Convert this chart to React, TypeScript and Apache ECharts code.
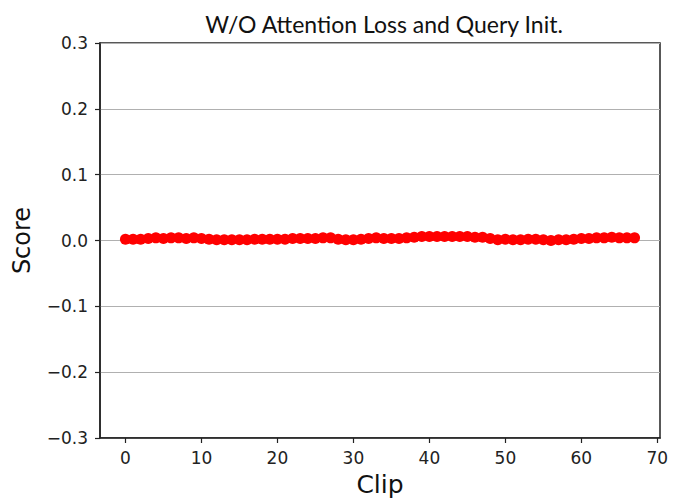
import React, { useEffect, useRef } from "react";
import * as echarts from "echarts";

const clips: number[] = Array.from({ length: 68 }, (_, i) => i);
const scores: number[] = [
  0.002, 0.002, 0.002, 0.003, 0.004, 0.003, 0.004, 0.004, 0.003, 0.004,
  0.003, 0.002, 0.001, 0.001, 0.001, 0.001, 0.001, 0.002, 0.002, 0.002,
  0.002, 0.002, 0.003, 0.003, 0.003, 0.003, 0.004, 0.004, 0.002, 0.001,
  0.001, 0.002, 0.003, 0.004, 0.003, 0.003, 0.003, 0.004, 0.005, 0.006,
  0.006, 0.006, 0.006, 0.006, 0.006, 0.006, 0.005, 0.005, 0.003, 0.001,
  0.002, 0.001, 0.001, 0.002, 0.002, 0.001, 0.0, 0.001, 0.001, 0.002,
  0.003, 0.003, 0.004, 0.004, 0.005, 0.004, 0.004, 0.004,
];
const xTicks: number[] = [0, 10, 20, 30, 40, 50, 60, 70];
const yTicks: number[] = [-0.3, -0.2, -0.1, 0.0, 0.1, 0.2, 0.3];

const fmtY = (v: number) => {
  const s = Math.abs(v).toFixed(1);
  return v < -1e-9 ? "\u2212" + s : s;
};

export default function App() {
  const ref = useRef<HTMLDivElement>(null);
  useEffect(() => {
    if (!ref.current) return;
    const chart = echarts.init(ref.current, null, { renderer: "svg" });
    const tickFont = { fontFamily: "DejaVu Sans", fontSize: 17, color: "#222" };
    chart.setOption({
      animation: false,
      backgroundColor: "#fff",
      title: {
        text: "W/O Attention Loss and Query Init.",
        left: 379,
        top: 7,
        textAlign: "center",
        textStyle: { fontFamily: "Lato", fontSize: 23, fontWeight: "normal", color: "#111" },
      },
      grid: {
        left: 100,
        right: 14,
        top: 43,
        bottom: 62,
        outerBoundsMode: "none",
        containLabel: false,
        show: true,
        borderColor: "#222",
        borderWidth: 1.5,
        backgroundColor: "transparent",
      },
      xAxis: {
        type: "value",
        min: -3.35,
        max: 70.35,
        name: "Clip",
        nameLocation: "middle",
        nameGap: 34,
        nameTextStyle: { fontFamily: "DejaVu Sans", fontSize: 25, color: "#111" },
        axisLine: { onZero: false, lineStyle: { color: "#222", width: 1.5 } },
        axisTick: { show: true, length: 5, inside: false, customValues: xTicks, lineStyle: { color: "#222", width: 1.2 } },
        axisLabel: { ...tickFont, margin: 11, customValues: xTicks, formatter: (v: number) => String(v) },
        splitLine: { show: false },
      },
      yAxis: {
        type: "value",
        min: -0.3,
        max: 0.3,
        interval: 0.1,
        name: "Score",
        nameLocation: "middle",
        nameGap: 66,
        nameTextStyle: { fontFamily: "DejaVu Sans", fontSize: 24, color: "#111" },
        axisLine: { show: true, onZero: false, lineStyle: { color: "#222", width: 1.5 } },
        axisTick: { show: true, length: 5, inside: false, lineStyle: { color: "#222", width: 1.2 } },
        axisLabel: { ...tickFont, margin: 12, customValues: yTicks, formatter: (v: number) => fmtY(v) },
        splitLine: { show: true, lineStyle: { color: "#b0b0b0", width: 1 } },
      },
      series: [
        {
          type: "scatter",
          data: clips.map((c, i) => [c, scores[i]]),
          symbol: "circle",
          symbolSize: 11,
          itemStyle: { color: "#ff0000", opacity: 1 },
        },
      ],
    });
    return () => chart.dispose();
  }, []);
  return <div ref={ref} style={{ width: 674, height: 500, position: "absolute", left: 0, top: 0 }} />;
}
